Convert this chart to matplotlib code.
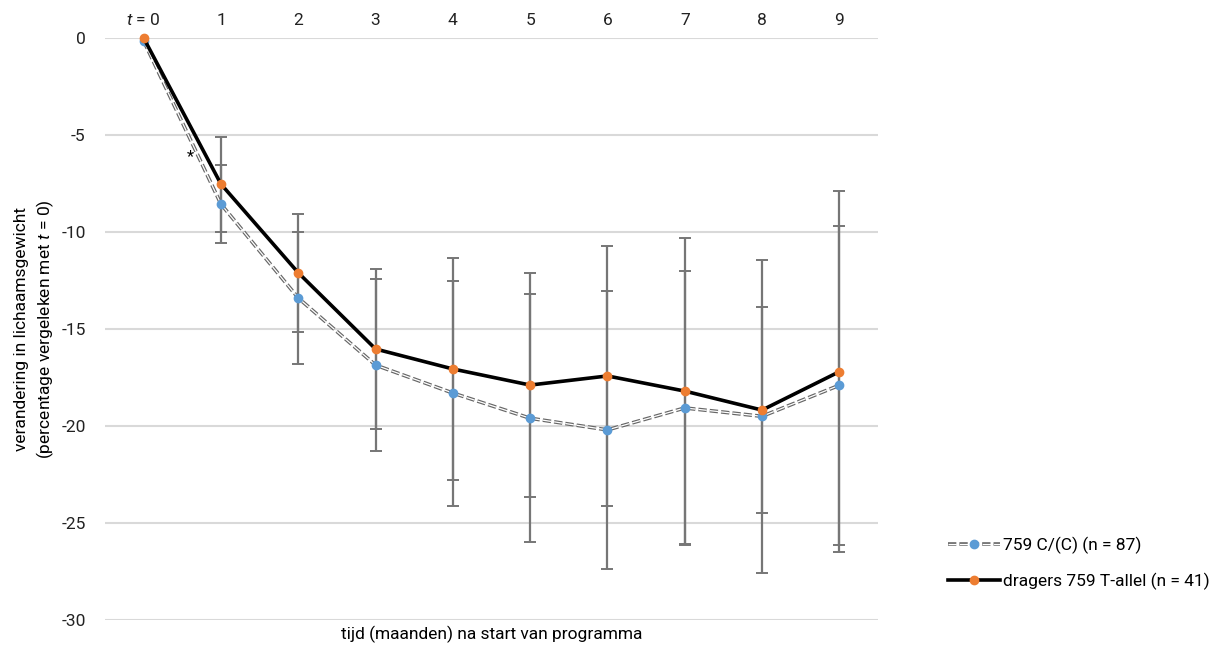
import matplotlib
matplotlib.use("Agg")
import matplotlib.pyplot as plt
from matplotlib.lines import Line2D
import numpy as np

plt.rcParams['font.family'] = ['Roboto', 'DejaVu Sans']
plt.rcParams['axes.unicode_minus'] = False
plt.rcParams['mathtext.fontset'] = 'custom'
plt.rcParams['mathtext.it'] = 'Roboto:italic'
plt.rcParams['mathtext.rm'] = 'Roboto'
plt.rcParams['lines.scale_dashes'] = False

t = np.arange(10)
tick_labels = ['$t$ = 0', '1', '2', '3', '4', '5', '6', '7', '8', '9']

# 759 C/(C), n = 87
cc_mean = [-0.15, -8.56, -13.4, -16.86, -18.3, -19.6, -20.2, -19.07, -19.5, -17.9]
cc_err = [0, 2.0, 3.4, 4.42, 5.8, 6.4, 7.16, 7.04, 8.06, 8.21]
# dragers 759 T-allel, n = 41
tt_mean = [0, -7.53, -12.1, -16.03, -17.06, -17.89, -17.42, -18.2, -19.18, -17.2]
tt_err = [0, 2.45, 3.05, 4.11, 5.72, 5.76, 6.72, 7.87, 5.33, 9.31]

grey = '#767676'
blue = '#5B9BD5'
orange = '#ED7D31'
dash = (0, (6, 2.2))
fs = 12.5

fig = plt.figure(figsize=(12.2, 6.46), dpi=100)
ax = fig.add_axes([105/1220, 1-620/646, (878-105)/1220, (620-38)/646])

ax.errorbar(t[1:], cc_mean[1:], yerr=cc_err[1:], fmt='none', ecolor=grey,
            elinewidth=1.6, capsize=4.5, capthick=1.4, zorder=2)
ax.errorbar(t[1:], tt_mean[1:], yerr=tt_err[1:], fmt='none', ecolor=grey,
            elinewidth=1.6, capsize=4.5, capthick=1.4, zorder=2)

# double dashed line for C/(C)
ax.plot(t, cc_mean, color='#666666', lw=2.6, ls=dash, zorder=3, clip_on=False)
ax.plot(t, cc_mean, color='white', lw=0.9, ls=dash, zorder=3.1, clip_on=False)
ax.plot(t, cc_mean, ls='none', marker='o', ms=6, color=blue, mec=blue, zorder=3.2, clip_on=False)

ax.plot(t, tt_mean, color='black', lw=2.6, zorder=4, clip_on=False)
ax.plot(t, tt_mean, ls='none', marker='o', ms=6, color=orange, mec=orange, zorder=4.1, clip_on=False)

ax.text(0.6, -6.1, '*', fontsize=12, ha='center', va='center', zorder=5)

ax.set_xlim(-0.5, 9.5)
ax.set_ylim(-30, 0)
ax.set_yticks(np.arange(-30, 1, 5))
ax.set_xticks(t)
ax.set_xticklabels(tick_labels)
ax.xaxis.tick_top()
ax.xaxis.set_label_position('bottom')
ax.tick_params(axis='both', length=0, labelsize=fs, colors='#222222')
ax.tick_params(axis='y', pad=14)
ax.tick_params(axis='x', pad=7)
ax.grid(axis='y', color='#d9d9d9', lw=1.5)
ax.set_axisbelow(True)
for s in ax.spines.values():
    s.set_visible(False)

ax.set_xlabel('tijd (maanden) na start van programma', fontsize=fs, labelpad=4)
ax.set_ylabel('verandering in lichaamsgewicht\n(percentage vergeleken met $t$ = 0)',
              fontsize=fs, labelpad=4, linespacing=1.3)

h_cc = (Line2D([], [], color='#666666', lw=2.6, ls=dash),
        Line2D([], [], color='white', lw=0.9, ls=dash),
        Line2D([], [], ls='none', marker='o', ms=6, color=blue))
h_tt = (Line2D([], [], color='black', lw=2.6),
        Line2D([], [], ls='none', marker='o', ms=6, color=orange))
fig.legend([h_cc, h_tt], ['759 C/(C) (n = 87)', 'dragers 759 T-allel (n = 41)'],
           loc='upper left', bbox_to_anchor=(932/1220, 1-521/646), frameon=False,
           fontsize=fs, handlelength=3.0, handletextpad=0.2, labelspacing=1.1)

plt.savefig('out.png', dpi=100)
